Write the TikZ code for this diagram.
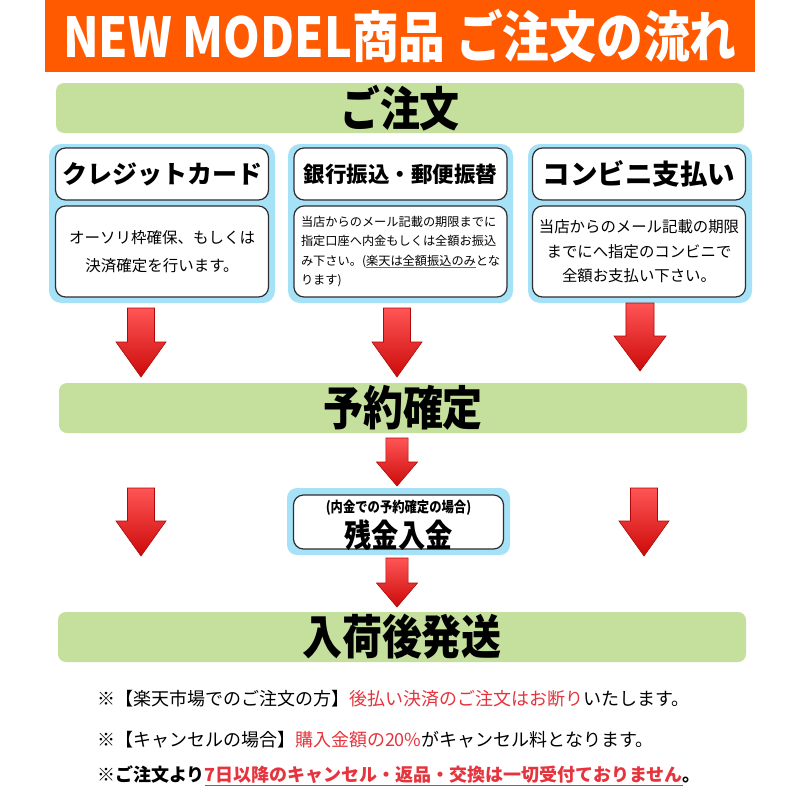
\documentclass[tikz,border=0pt]{standalone}
\usepackage{fontspec}
\setmainfont{Noto Sans CJK JP}
\newfontfamily\headfont{Noto Sans CJK JP}[FakeStretch=0.85]

\definecolor{titleOrange}{HTML}{FF5A00}
\definecolor{barGreen}{HTML}{C5DF9C}
\definecolor{panelBlue}{HTML}{A6E2F7}
\definecolor{boxEdge}{HTML}{2E2E2E}
\definecolor{noteRed}{HTML}{E5343D}
\definecolor{arrowTop}{HTML}{FF5555}
\definecolor{arrowBot}{HTML}{CC0A0A}
\definecolor{arrowEdge}{HTML}{B00808}

% white outline round black text (fill and stroke render mode)
\newcommand{\halo}[1]{\special{pdf:content 2 Tr 1 j 3 w 1 1 1 RG}#1\special{pdf:content 0 Tr}}
% red line under a piece of text
\newcommand{\redul}[3]{\setbox0=\hbox{#3}\rlap{\textcolor{noteRed}{\rule[-#1]{\wd0}{#2}}}\box0}
% red block arrow: x, top, width, length, head length
\newcommand{\redarrow}[5]{%
  \shadedraw[arrowfill] ({#1-0.27*#3},{-#2}) -- ({#1+0.27*#3},{-#2})
    -- ({#1+0.27*#3},{-#2-#4+#5}) -- ({#1+0.5*#3},{-#2-#4+#5})
    -- ({#1},{-#2-#4}) -- ({#1-0.5*#3},{-#2-#4+#5})
    -- ({#1-0.27*#3},{-#2-#4+#5}) -- cycle;}

\begin{document}
\begin{tikzpicture}[x=1pt,y=1pt,
  every node/.style={inner sep=0pt,outer sep=0pt},
  bar/.style={fill=barGreen,rounded corners=8pt,minimum width=688pt,minimum height=50pt,
    font=\headfont\bfseries\fontsize{47}{47}\selectfont},
  panel/.style={fill=panelBlue,rounded corners=12pt},
  card/.style={fill=white,draw=boxEdge,line width=1.2pt,rounded corners=10pt,minimum width=213pt},
  cardtitle/.style={card,minimum height=52pt},
  cardbody/.style={card,minimum height=91pt},
  note/.style={anchor=west,font=\fontsize{18}{18}\selectfont},
  arrowfill/.style={top color=arrowTop,bottom color=arrowBot,draw=arrowEdge,line width=0.6pt}]
\useasboundingbox (0,0) rectangle (800,-800);
\fill[white] (0,0) rectangle (800,-800);

% heading
\node[fill=titleOrange,minimum width=710pt,minimum height=72pt,text=white,
  font=\headfont\bfseries\fontsize{55}{55}\selectfont] (title) at (400,-36) {NEW MODEL商品 ご注文の流れ};
\node[bar] (order) at (400,-108) {\halo{ご注文}};

% payment panels
\node[panel,minimum width=226pt,minimum height=159pt] (cardP) at (162,-223.5) {};
\node[cardtitle,font=\bfseries\fontsize{25}{25}\selectfont] (cardT) at (162,-174) {クレジットカード};
\node[cardbody,align=center,font=\fontsize{15.5}{28}\selectfont] (cardB) at (162,-251.5)
  {オーソリ枠確保、もしくは\\決済確定を行います。};

\node[panel,minimum width=225pt,minimum height=159pt] (bankP) at (400.5,-223.5) {};
\node[cardtitle,font=\bfseries\fontsize{21.5}{21.5}\selectfont] (bankT) at (400.5,-174) {銀行振込・郵便振替};
\node[cardbody,align=left,font=\fontsize{12.2}{19.5}\selectfont] (bankB) at (400.5,-251.5)
  {当店からのメール記載の期限までに\\指定口座へ内金もしくは全額お振込\\み下さい。(\redul{3pt}{1pt}{楽天は全額振込のみ}とな\\ります)};

\node[panel,minimum width=224pt,minimum height=159pt] (storeP) at (640,-223.5) {};
\node[cardtitle,font=\bfseries\fontsize{27.5}{27.5}\selectfont] (storeT) at (639,-174) {コンビニ支払い};
\node[cardbody,align=center,font=\fontsize{15.4}{24.5}\selectfont] (storeB) at (639,-251.5)
  {当店からのメール記載の期限\\までにへ指定のコンビニで\\全額お支払い下さい。};

\redarrow{141}{308}{50}{69}{35}
\redarrow{397}{308}{50}{69}{35}
\redarrow{640}{303}{52}{68}{35}

\node[bar] (confirm) at (403,-408) {\halo{予約確定}};

% balance payment
\redarrow{397}{438}{41}{48}{24}
\redarrow{141}{488}{50}{68}{35}
\redarrow{644}{488}{50}{68}{35}
\node[panel,minimum width=223pt,minimum height=67pt,rounded corners=10pt] (restP) at (398.5,-521.5) {};
\node[card,minimum width=210pt,minimum height=54pt] (rest) at (398.5,-522) {};
\node[font=\headfont\bfseries\fontsize{14.5}{14.5}\selectfont] (restN) at (398.5,-508) {(内金での予約確定の場合)};
\node[font=\headfont\bfseries\fontsize{32}{32}\selectfont] (restT) at (398.5,-535) {残金入金};
\redarrow{397}{558}{41}{49}{24}

\node[bar] (ship) at (402,-637) {\halo{入荷後発送}};

% notes
\node[note] (note1) at (97,-699) {※【楽天市場でのご注文の方】\textcolor{noteRed}{後払い決済のご注文はお断り}いたします。};
\node[note] (note2) at (97,-740) {※【キャンセルの場合】\textcolor{noteRed}{購入金額の20\%}がキャンセル料となります。};
\node[note,font=\bfseries\fontsize{18}{18}\selectfont] (note3) at (97,-776)
  {※ご注文より\redul{5pt}{1.5pt}{\textcolor{noteRed}{7日以降のキャンセル・返品・交換は一切受付ておりません}}。};
\end{tikzpicture}
\end{document}
